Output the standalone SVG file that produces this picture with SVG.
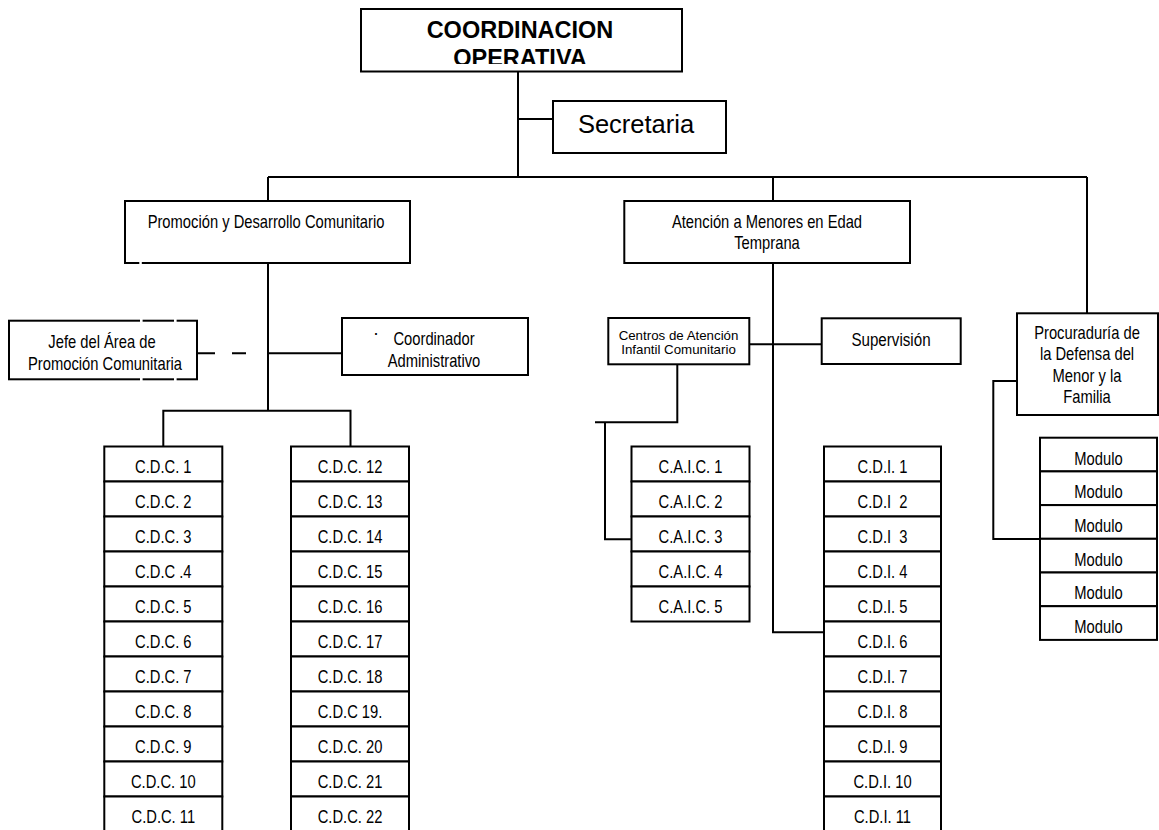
<svg xmlns="http://www.w3.org/2000/svg" width="1159" height="830" viewBox="0 0 1159 830">
<style>
.b{fill:#fff;stroke:#000;stroke-width:2}
.c{fill:none;stroke:#000;stroke-width:2}
.g{fill:#fff;stroke:none}
.t{font-family:"Liberation Sans",Arial,Helvetica,sans-serif;fill:#000;text-anchor:middle}
.n{font-size:18px}
.s{font-size:13.3px}
.h{font-size:23.5px;font-weight:bold}
.p{white-space:pre}
</style>
<defs>
<clipPath id="clipTop"><rect x="361" y="9" width="321" height="55"/></clipPath>
</defs>
<rect width="1159" height="830" fill="#fff"/>

<g id="connectors">
<path class="c" d="M518,71 V177 M518,119 H553"/>
<path class="c" d="M268,177 H1087 M268,177 V201 M773,177 V201 M1087,177 V313"/>
<path class="c" d="M268,259 V410.7 M163.3,410.7 H350.5 M163.3,409.7 V446.5 M350.5,409.7 V446.5"/>
<path class="c" d="M268,353.3 H342 M197,353.3 H215 M232,353.3 H246"/>
<path class="c" d="M773,259 V632.3 H824"/>
<path class="c" d="M747,344.3 H821.7"/>
<path class="c" d="M677.3,364 V422.3 H595 M605,421.3 V539.3 H631.5"/>
<path class="c" d="M1017,381 H993.3 V539 H1040"/>
</g>

<g id="coordinacion">
<rect class="b" x="361" y="9" width="321" height="62.5"/>
<g clip-path="url(#clipTop)">
<text class="t h" x="520" y="38.3">COORDINACION</text>
<text class="t h" x="520" y="65.7">OPERATIVA</text>
</g>
</g>

<g id="secretaria">
<rect class="b" x="553" y="101" width="173" height="52"/>
<text class="t" style="font-size:25.5px" x="636" y="133">Secretaria</text>
</g>

<g id="promocion">
<rect class="b" x="125" y="201" width="285" height="62"/>
<rect class="g" x="139.3" y="261" width="2.5" height="4"/>
<text class="t n" transform="translate(266,228) scale(0.82,1)">Promoción y Desarrollo Comunitario</text>
</g>

<g id="atencion">
<rect class="b" x="624.3" y="201" width="285.7" height="62"/>
<text class="t n" transform="translate(767,228) scale(0.82,1)">Atención a Menores en Edad</text>
<text class="t n" transform="translate(767,249) scale(0.82,1)">Temprana</text>
</g>

<g id="jefe">
<rect class="b" x="9" y="320.7" width="188" height="58.6"/>
<rect class="g" x="140" y="318.5" width="2.6" height="4.5"/>
<rect class="g" x="174" y="318.5" width="2.6" height="4.5"/>
<rect class="g" x="140" y="377" width="2.6" height="4.5"/>
<rect class="g" x="174" y="377" width="2.6" height="4.5"/>
<text class="t n" transform="translate(102,348) scale(0.82,1)">Jefe del Área de</text>
<text class="t n" transform="translate(105,370) scale(0.82,1)">Promoción Comunitaria</text>
</g>

<g id="coordinador">
<rect class="b" x="342" y="318" width="186" height="57"/>
<text class="t n" x="376" y="339">·</text>
<text class="t n" transform="translate(434,345) scale(0.82,1)">Coordinador</text>
<text class="t n" transform="translate(434,366.5) scale(0.82,1)">Administrativo</text>
</g>

<g id="centros">
<rect class="b" x="608.3" y="318" width="141" height="46.3"/>
<text class="t s" x="678.5" y="340">Centros de Atención</text>
<text class="t s" x="678.5" y="354.3">Infantil Comunitario</text>
</g>

<g id="supervision">
<rect class="b" x="821.7" y="318.3" width="139" height="45.7"/>
<text class="t" style="font-size:18.5px" transform="translate(891,346) scale(0.82,1)">Supervisión</text>
</g>

<g id="procuraduria">
<rect class="b" x="1017" y="313.3" width="141" height="101.7"/>
<text class="t n" transform="translate(1087,339) scale(0.82,1)">Procuraduría de</text>
<text class="t n" transform="translate(1087,360.3) scale(0.82,1)">la Defensa del</text>
<text class="t n" transform="translate(1087,381.6) scale(0.82,1)">Menor y la</text>
<text class="t n" transform="translate(1087,402.9) scale(0.82,1)">Familia</text>
</g>

<g id="cdc-list-1">
<rect class="b" x="104.3" y="446.5" width="118" height="35"/>
<rect class="b" x="104.3" y="481.5" width="118" height="35"/>
<rect class="b" x="104.3" y="516.5" width="118" height="35"/>
<rect class="b" x="104.3" y="551.5" width="118" height="35"/>
<rect class="b" x="104.3" y="586.5" width="118" height="35"/>
<rect class="b" x="104.3" y="621.5" width="118" height="35"/>
<rect class="b" x="104.3" y="656.5" width="118" height="35"/>
<rect class="b" x="104.3" y="691.5" width="118" height="35"/>
<rect class="b" x="104.3" y="726.5" width="118" height="35"/>
<rect class="b" x="104.3" y="761.5" width="118" height="35"/>
<rect class="b" x="104.3" y="796.5" width="118" height="35"/>
<text class="t n" transform="translate(163.3,473.3) scale(0.82,1)">C.D.C. 1</text>
<text class="t n" transform="translate(163.3,508.3) scale(0.82,1)">C.D.C. 2</text>
<text class="t n" transform="translate(163.3,543.3) scale(0.82,1)">C.D.C. 3</text>
<text class="t n" transform="translate(163.3,578.3) scale(0.82,1)">C.D.C .4</text>
<text class="t n" transform="translate(163.3,613.3) scale(0.82,1)">C.D.C. 5</text>
<text class="t n" transform="translate(163.3,648.3) scale(0.82,1)">C.D.C. 6</text>
<text class="t n" transform="translate(163.3,683.3) scale(0.82,1)">C.D.C. 7</text>
<text class="t n" transform="translate(163.3,718.3) scale(0.82,1)">C.D.C. 8</text>
<text class="t n" transform="translate(163.3,753.3) scale(0.82,1)">C.D.C. 9</text>
<text class="t n" transform="translate(163.3,788.3) scale(0.82,1)">C.D.C. 10</text>
<text class="t n" transform="translate(163.3,823.3) scale(0.82,1)">C.D.C. 11</text>
</g>

<g id="cdc-list-2">
<rect class="b" x="291" y="446.5" width="118" height="35"/>
<rect class="b" x="291" y="481.5" width="118" height="35"/>
<rect class="b" x="291" y="516.5" width="118" height="35"/>
<rect class="b" x="291" y="551.5" width="118" height="35"/>
<rect class="b" x="291" y="586.5" width="118" height="35"/>
<rect class="b" x="291" y="621.5" width="118" height="35"/>
<rect class="b" x="291" y="656.5" width="118" height="35"/>
<rect class="b" x="291" y="691.5" width="118" height="35"/>
<rect class="b" x="291" y="726.5" width="118" height="35"/>
<rect class="b" x="291" y="761.5" width="118" height="35"/>
<rect class="b" x="291" y="796.5" width="118" height="35"/>
<text class="t n" transform="translate(350,473.3) scale(0.82,1)">C.D.C. 12</text>
<text class="t n" transform="translate(350,508.3) scale(0.82,1)">C.D.C. 13</text>
<text class="t n" transform="translate(350,543.3) scale(0.82,1)">C.D.C. 14</text>
<text class="t n" transform="translate(350,578.3) scale(0.82,1)">C.D.C. 15</text>
<text class="t n" transform="translate(350,613.3) scale(0.82,1)">C.D.C. 16</text>
<text class="t n" transform="translate(350,648.3) scale(0.82,1)">C.D.C. 17</text>
<text class="t n" transform="translate(350,683.3) scale(0.82,1)">C.D.C. 18</text>
<text class="t n" transform="translate(350,718.3) scale(0.82,1)">C.D.C 19.</text>
<text class="t n" transform="translate(350,753.3) scale(0.82,1)">C.D.C. 20</text>
<text class="t n" transform="translate(350,788.3) scale(0.82,1)">C.D.C. 21</text>
<text class="t n" transform="translate(350,823.3) scale(0.82,1)">C.D.C. 22</text>
</g>

<g id="caic-list">
<rect class="b" x="631.5" y="446.5" width="118" height="35"/>
<rect class="b" x="631.5" y="481.5" width="118" height="35"/>
<rect class="b" x="631.5" y="516.5" width="118" height="35"/>
<rect class="b" x="631.5" y="551.5" width="118" height="35"/>
<rect class="b" x="631.5" y="586.5" width="118" height="35"/>
<text class="t n" transform="translate(690.5,473.3) scale(0.82,1)">C.A.I.C. 1</text>
<text class="t n" transform="translate(690.5,508.3) scale(0.82,1)">C.A.I.C. 2</text>
<text class="t n" transform="translate(690.5,543.3) scale(0.82,1)">C.A.I.C. 3</text>
<text class="t n" transform="translate(690.5,578.3) scale(0.82,1)">C.A.I.C. 4</text>
<text class="t n" transform="translate(690.5,613.3) scale(0.82,1)">C.A.I.C. 5</text>
</g>

<g id="cdi-list">
<rect class="b" x="824" y="446.5" width="117" height="35"/>
<rect class="b" x="824" y="481.5" width="117" height="35"/>
<rect class="b" x="824" y="516.5" width="117" height="35"/>
<rect class="b" x="824" y="551.5" width="117" height="35"/>
<rect class="b" x="824" y="586.5" width="117" height="35"/>
<rect class="b" x="824" y="621.5" width="117" height="35"/>
<rect class="b" x="824" y="656.5" width="117" height="35"/>
<rect class="b" x="824" y="691.5" width="117" height="35"/>
<rect class="b" x="824" y="726.5" width="117" height="35"/>
<rect class="b" x="824" y="761.5" width="117" height="35"/>
<rect class="b" x="824" y="796.5" width="117" height="35"/>
<text class="t n" transform="translate(882.5,473.3) scale(0.82,1)">C.D.I. 1</text>
<text class="t n p" xml:space="preserve" transform="translate(882.5,508.3) scale(0.82,1)">C.D.I  2</text>
<text class="t n p" xml:space="preserve" transform="translate(882.5,543.3) scale(0.82,1)">C.D.I  3</text>
<text class="t n" transform="translate(882.5,578.3) scale(0.82,1)">C.D.I. 4</text>
<text class="t n" transform="translate(882.5,613.3) scale(0.82,1)">C.D.I. 5</text>
<text class="t n" transform="translate(882.5,648.3) scale(0.82,1)">C.D.I. 6</text>
<text class="t n" transform="translate(882.5,683.3) scale(0.82,1)">C.D.I. 7</text>
<text class="t n" transform="translate(882.5,718.3) scale(0.82,1)">C.D.I. 8</text>
<text class="t n" transform="translate(882.5,753.3) scale(0.82,1)">C.D.I. 9</text>
<text class="t n" transform="translate(882.5,788.3) scale(0.82,1)">C.D.I. 10</text>
<text class="t n" transform="translate(882.5,823.3) scale(0.82,1)">C.D.I. 11</text>
</g>

<g id="modulo-list">
<rect class="b" x="1040" y="437.7" width="117" height="33.7"/>
<rect class="b" x="1040" y="471.4" width="117" height="33.7"/>
<rect class="b" x="1040" y="505.1" width="117" height="33.7"/>
<rect class="b" x="1040" y="538.8" width="117" height="33.7"/>
<rect class="b" x="1040" y="572.5" width="117" height="33.7"/>
<rect class="b" x="1040" y="606.2" width="117" height="33.7"/>
<text class="t n" transform="translate(1098.5,464.5) scale(0.82,1)">Modulo</text>
<text class="t n" transform="translate(1098.5,498.2) scale(0.82,1)">Modulo</text>
<text class="t n" transform="translate(1098.5,531.9) scale(0.82,1)">Modulo</text>
<text class="t n" transform="translate(1098.5,565.6) scale(0.82,1)">Modulo</text>
<text class="t n" transform="translate(1098.5,599.3) scale(0.82,1)">Modulo</text>
<text class="t n" transform="translate(1098.5,633) scale(0.82,1)">Modulo</text>
</g>
</svg>
